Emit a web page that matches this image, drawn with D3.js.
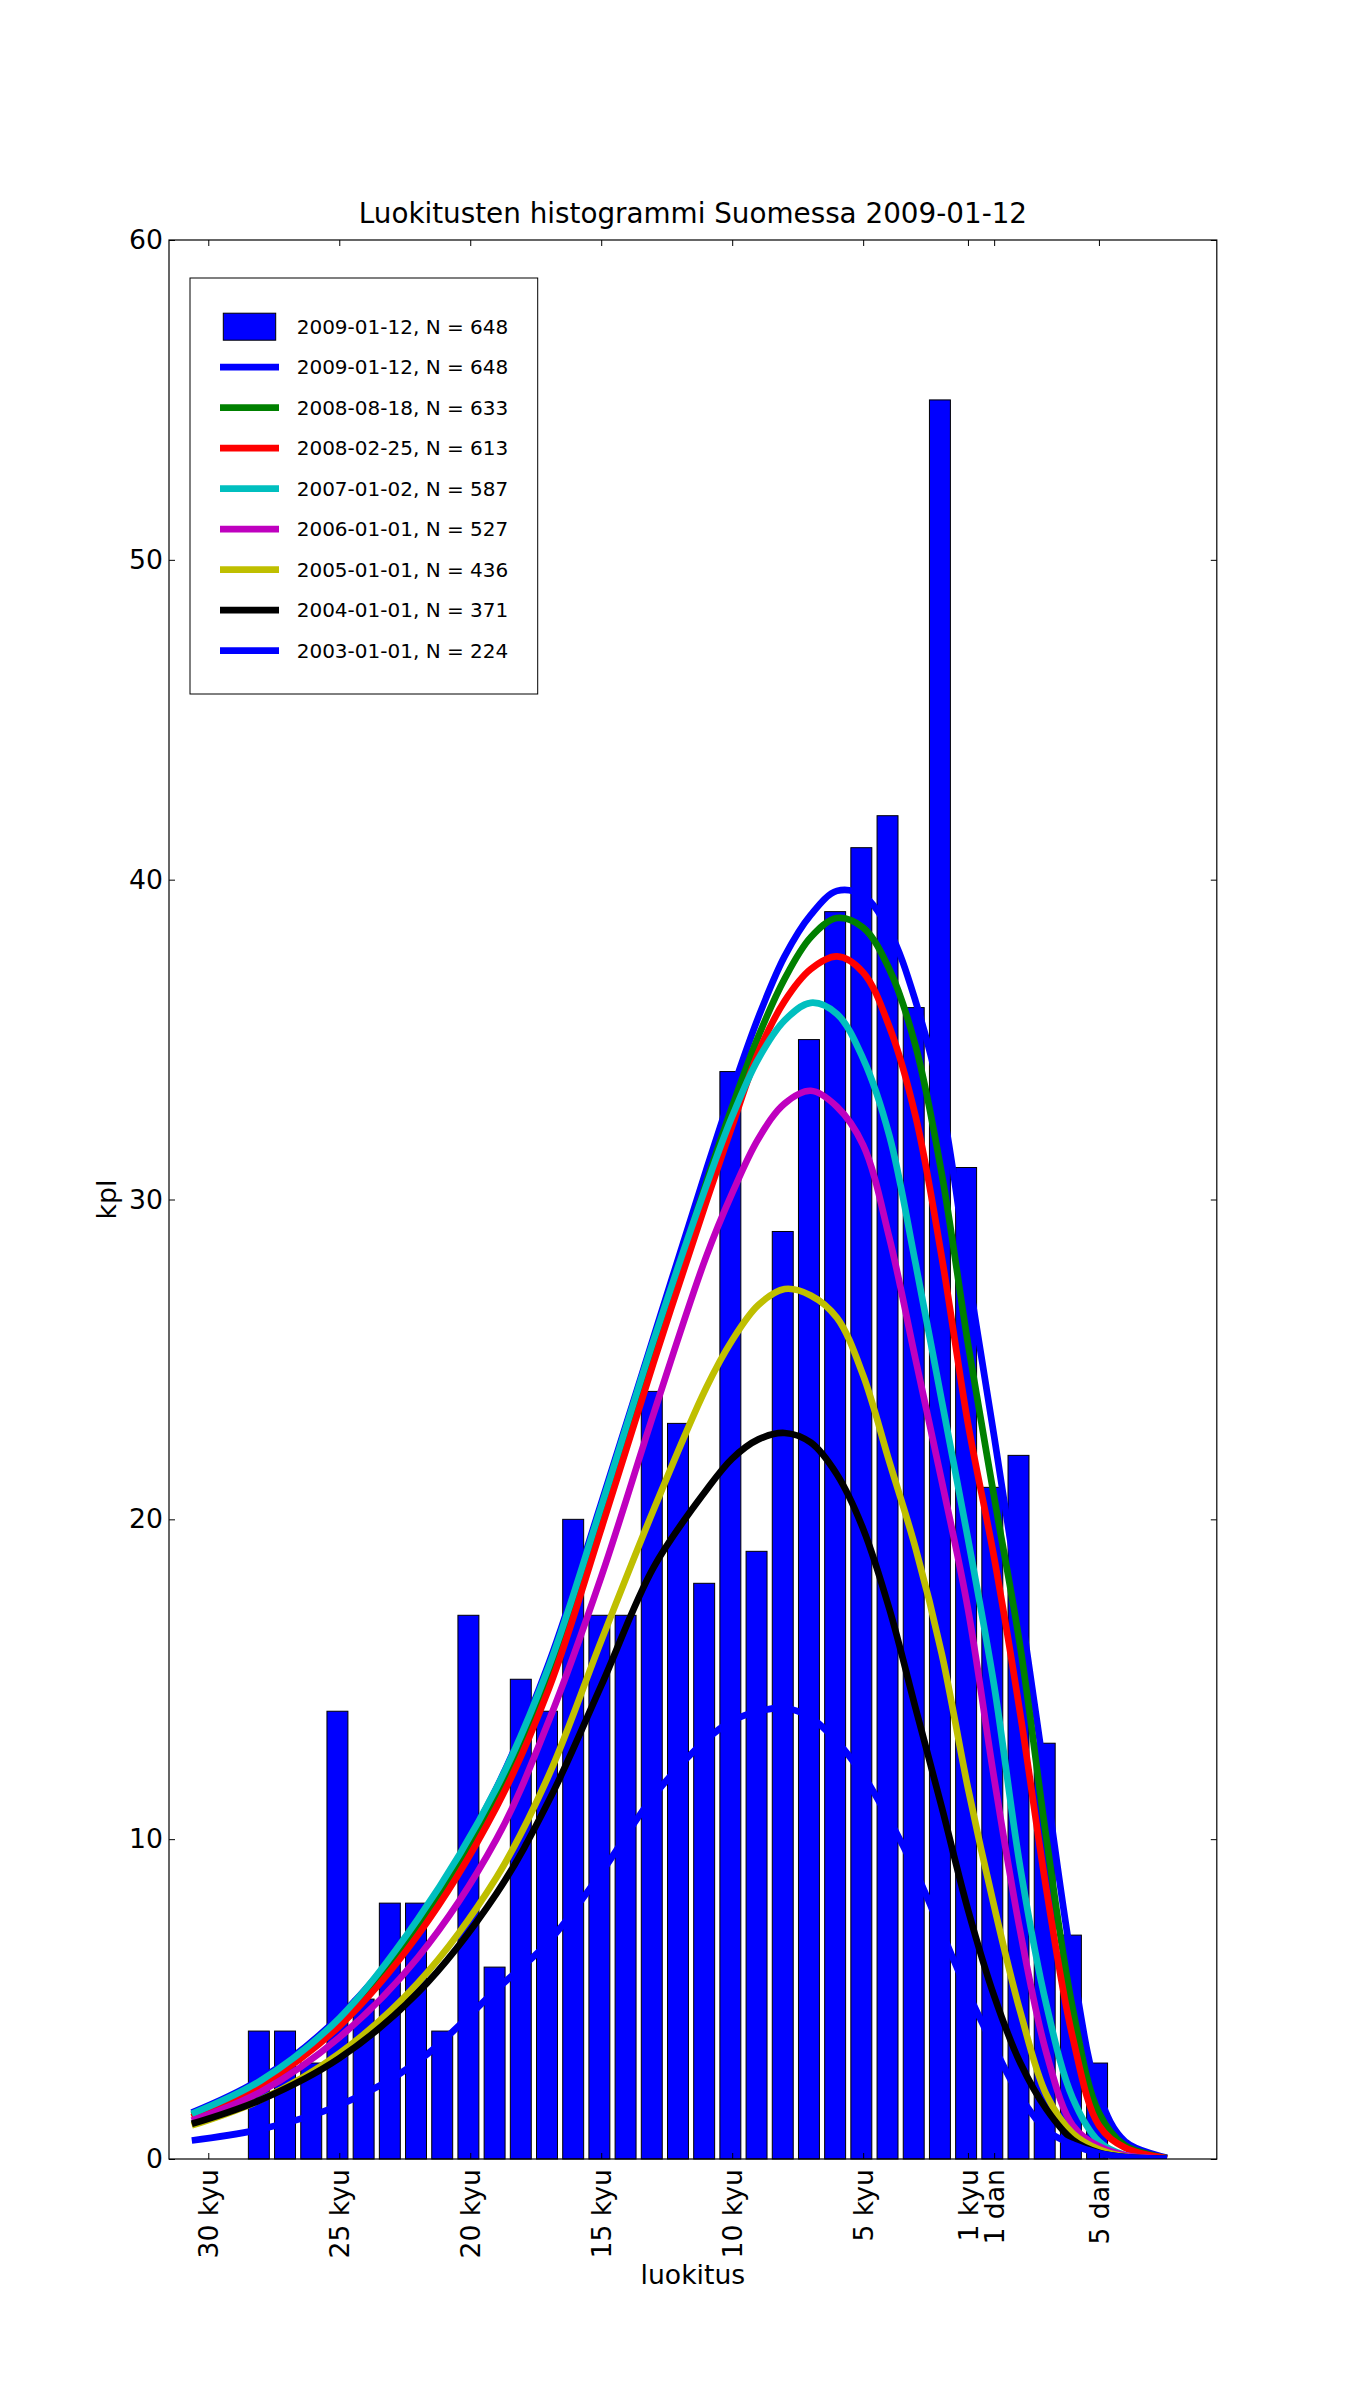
<!DOCTYPE html>
<html>
<head>
<meta charset="utf-8">
<script src="https://cdn.jsdelivr.net/npm/d3@7/dist/d3.min.js"></script>
<style>
  body { margin: 0; background: #fff; }
  svg { display: block; font-family: "DejaVu Sans", sans-serif; }
</style>
</head>
<body>
<div id="chart"></div>
<script>
// ranks are counted from 30 kyu = 0 ... 1 kyu = 29, 1 dan = 30
const binCounts = [4, 4, 3, 14, 5, 8, 8, 4, 17, 6, 15, 14, 20, 17, 17, 24, 23, 18, 34, 19,
                   29, 35, 39, 41, 42, 36, 55, 31, 21, 22, 13, 7, 3];
const binFirst = 1.53;   // left edge of first bar, rank units
const binWidth = 0.8;

const tickRanks = [0, 5, 10, 15, 20, 25, 29, 30, 34];
const tickLabels = ["30 kyu", "25 kyu", "20 kyu", "15 kyu", "10 kyu", "5 kyu", "1 kyu", "1 dan", "5 dan"];
const yTicks = [0, 10, 20, 30, 40, 50, 60];

// fitted curves, read at these ranks
const curveRanks = [-0.63, 2, 5, 8, 11, 13, 15, 17, 19, 20, 21, 22, 23, 24, 25, 26, 27, 28, 29, 30, 31, 32, 33, 34, 35, 36.6];
const fit20090112 = [1.45, 2.5, 4.45, 7.4, 11.6, 15.5, 20.5, 25.7, 30.9, 33.4, 35.7, 37.6, 38.9, 39.65, 39.5, 38.4, 36.2, 33.0, 27.7, 22.6, 17.3, 11.6, 6.0, 2.0, 0.55, 0.04];
const fit20080818 = [1.38, 2.4, 4.3, 7.2, 11.3, 15.2, 20.2, 25.4, 30.5, 32.9, 35.1, 36.9, 38.2, 38.8, 38.5, 37.2, 34.8, 30.8, 25.5, 20.7, 16.0, 10.0, 4.7, 1.45, 0.42, 0.03];
const fit20080225 = [1.30, 2.3, 4.15, 7.0, 11.0, 14.7, 19.7, 24.9, 29.9, 32.3, 34.6, 36.2, 37.2, 37.6, 37.1, 35.4, 32.6, 28.2, 23.0, 18.8, 13.9, 8.4, 3.8, 1.05, 0.35, 0.02];
const fit20070102 = [1.41, 2.45, 4.4, 7.5, 11.6, 15.4, 20.4, 25.6, 30.4, 32.6, 34.4, 35.6, 36.15, 35.8, 34.4, 32.0, 28.0, 23.7, 19.4, 14.8, 9.1, 4.8, 1.9, 0.55, 0.12, 0.01];
const fit20060101 = [1.2, 2.1, 3.8, 6.3, 10.0, 13.7, 18.2, 23.3, 28.2, 30.2, 31.9, 33.0, 33.4, 32.9, 31.7, 28.8, 25.0, 21.2, 17.2, 11.9, 7.1, 3.3, 1.05, 0.4, 0.12, 0.01];
const fit20050101 = [1.05, 1.85, 3.3, 5.5, 8.8, 12.0, 16.2, 20.3, 24.1, 25.6, 26.7, 27.2, 27.0, 26.3, 24.5, 21.8, 19.1, 15.8, 11.6, 7.9, 4.6, 2.0, 0.8, 0.3, 0.08, 0.01];
const fit20040101 = [1.10, 1.85, 3.15, 5.2, 8.3, 11.2, 14.8, 18.5, 20.9, 21.9, 22.5, 22.7, 22.4, 21.4, 19.7, 17.2, 14.1, 11.0, 7.8, 5.1, 3.0, 1.55, 0.6, 0.2, 0.06, 0.01];
const fit20030101 = [0.58, 0.93, 1.68, 3.05, 5.3, 6.8, 8.95, 11.35, 13.1, 13.7, 14.0, 14.1, 13.8, 13.05, 12.0, 10.6, 9.0, 7.1, 5.2, 3.5, 1.95, 0.9, 0.45, 0.18, 0.06, 0.01];

const seriesLabels = ["2009-01-12, N = 648", "2008-08-18, N = 633", "2008-02-25, N = 613", "2007-01-02, N = 587",
                      "2006-01-01, N = 527", "2005-01-01, N = 436", "2004-01-01, N = 371", "2003-01-01, N = 224"];
const seriesColors = ["#0000ff", "#008000", "#ff0000", "#00bfbf", "#bf00bf", "#bfbf00", "#000000", "#0000ff"];
const seriesValues = [fit20090112, fit20080818, fit20080225, fit20070102, fit20060101, fit20050101, fit20040101, fit20030101];
const barLabel = "2009-01-12, N = 648";

const W = 1352, H = 2399;
const margin = {top: 240, right: 135.2, bottom: 240, left: 169};
const width = W - margin.left - margin.right,
      height = H - margin.top - margin.bottom;

const svg = d3.select("#chart").append("svg")
    .attr("width", W).attr("height", H);
svg.append("rect").attr("width", W).attr("height", H).attr("fill", "#fff");

const g = svg.append("g").attr("transform", `translate(${margin.left},${margin.top})`);

const x = d3.scaleLinear().domain([-1.5, 38.5]).range([0, width]);
const y = d3.scaleLinear().domain([0, 60]).range([height, 0]);

g.append("clipPath").attr("id", "clip")
  .append("rect").attr("width", width).attr("height", height);

// bars
g.append("g")
  .selectAll("rect")
  .data(binCounts)
  .join("rect")
  .attr("x", (d, i) => x(binFirst + i))
  .attr("width", x(binWidth) - x(0))
  .attr("y", d => y(d))
  .attr("height", d => y(0) - y(d))
  .attr("fill", "#0000ff")
  .attr("stroke", "#000")
  .attr("stroke-width", 1);

// curves
const line = d3.line()
  .x(d => x(d[0]))
  .y(d => y(Math.max(0, d[1])))
  .curve(d3.curveCatmullRom.alpha(0.5));

const series = seriesValues.map((vals, k) => ({
  label: seriesLabels[k],
  color: seriesColors[k],
  points: curveRanks.map((r, i) => [r, vals[i]])
}));

g.append("g").attr("clip-path", "url(#clip)")
  .selectAll("path")
  .data(series)
  .join("path")
  .attr("d", d => line(d.points))
  .attr("fill", "none")
  .attr("stroke", d => d.color)
  .attr("stroke-width", 6.7)
  .attr("stroke-linejoin", "round");

// axes, ticks point inwards
const tickLen = 6;
const fontSize = 26.67;

const xAxis = d3.axisBottom(x)
  .tickValues(tickRanks)
  .tickFormat((d, i) => tickLabels[i])
  .tickSize(-tickLen);
const gx = g.append("g").attr("transform", `translate(0,${height})`).call(xAxis);
gx.selectAll("text")
  .attr("transform", "rotate(-90)")
  .attr("x", -10).attr("y", 0).attr("dy", "0.35em")
  .attr("text-anchor", "end")
  .style("font-size", fontSize + "px");

g.append("g").call(d3.axisTop(x).tickValues(tickRanks).tickFormat("").tickSize(-tickLen));

const gy = g.append("g").call(d3.axisLeft(y).tickValues(yTicks).tickSize(-tickLen).tickPadding(6));
gy.selectAll("text").style("font-size", fontSize + "px");

g.append("g").attr("transform", `translate(${width},0)`)
  .call(d3.axisRight(y).tickValues(yTicks).tickFormat("").tickSize(-tickLen));

g.selectAll(".domain").remove();
g.selectAll(".tick line").attr("stroke", "#000").attr("stroke-width", 1);
g.selectAll(".tick text").attr("fill", "#000").attr("font-family", "DejaVu Sans");

g.append("rect")
  .attr("width", width).attr("height", height)
  .attr("fill", "none").attr("stroke", "#000").attr("stroke-width", 1.2);

// labels
svg.append("text")
  .attr("x", margin.left + width / 2).attr("y", 223)
  .attr("text-anchor", "middle")
  .style("font-size", "27.8px")
  .text("Luokitusten histogrammi Suomessa 2009-01-12");

svg.append("text")
  .attr("x", margin.left + width / 2).attr("y", 2284)
  .attr("text-anchor", "middle")
  .style("font-size", fontSize + "px")
  .text("luokitus");

svg.append("text")
  .attr("transform", `translate(116,${margin.top + height / 2}) rotate(-90)`)
  .attr("text-anchor", "middle")
  .style("font-size", fontSize + "px")
  .text("kpl");

// legend
const legend = svg.append("g").attr("transform", "translate(190,278)");
legend.append("rect")
  .attr("width", 347.7).attr("height", 416)
  .attr("fill", "#fff").attr("stroke", "#000").attr("stroke-width", 1);

const rowY = i => 48.7 + i * 40.5;

legend.append("rect")
  .attr("x", 33.3).attr("y", rowY(0) - 13.5)
  .attr("width", 52.4).attr("height", 27)
  .attr("fill", "#0000ff").attr("stroke", "#000").attr("stroke-width", 1);
legend.append("text")
  .attr("x", 106.7).attr("y", rowY(0)).attr("dy", "0.36em")
  .style("font-size", "20px")
  .text(barLabel);

const rows = legend.selectAll("g.row")
  .data(series)
  .join("g")
  .attr("class", "row")
  .attr("transform", (d, i) => `translate(0,${rowY(i + 1)})`);
rows.append("line")
  .attr("x1", 30).attr("x2", 89)
  .attr("stroke", d => d.color)
  .attr("stroke-width", 6.7);
rows.append("text")
  .attr("x", 106.7).attr("dy", "0.36em")
  .style("font-size", "20px")
  .text(d => d.label);
</script>
</body>
</html>
